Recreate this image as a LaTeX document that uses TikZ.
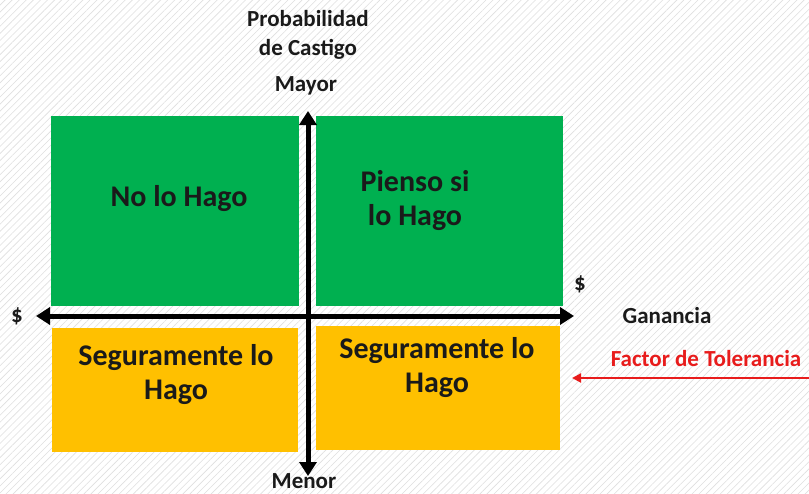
\documentclass[tikz,border=0pt]{standalone}
\usepackage{fontspec}
\setmainfont{Carlito}
\usetikzlibrary{patterns.meta,arrows.meta}
\definecolor{xgreen}{HTML}{00B050}
\definecolor{xgold}{HTML}{FFC000}
\definecolor{xred}{HTML}{E81C1C}
\definecolor{txt}{HTML}{1A1A1A}
\tikzset{
  boxtext/.style={font=\fontsize{30}{34}\selectfont\bfseries, text=txt, align=center},
  lbl/.style={font=\fontsize{23}{29}\selectfont\bfseries, text=txt, align=center},
  axis/.style={line width=5pt, -{Triangle[length=14pt,width=17pt]}},
}
\begin{document}
\begin{tikzpicture}[x=1pt,y=-1pt]
\useasboundingbox (0,0) rectangle (809,493);
\fill[white] (0,0) rectangle (809,493);
\fill[pattern={Lines[angle=45,distance=5pt,line width=0.6pt]}, pattern color=gray!25] (0,0) rectangle (809,493);
% quadrants
\fill[xgreen] (51,116) rectangle (299,306);
\fill[xgreen] (316,116) rectangle (563,306);
\fill[xgold] (52,328) rectangle (298,452);
\fill[xgold] (316,326) rectangle (560,450);
\node[boxtext] (q1) at (179,199) {No lo Hago};
\node[boxtext] (q2) at (415,201) {Pienso si\\lo Hago};
\node[boxtext] (q3) at (176,375) {Seguramente lo\\Hago};
\node[boxtext] (q4) at (437,368) {Seguramente lo\\Hago};
% axis coordinates
\coordinate (vtop) at (308,111);
\coordinate (vbot) at (308,476);
\coordinate (hleft) at (36,316);
\coordinate (hright) at (574,316);
\coordinate (c) at (308,316);
\draw[axis] (c) -- (vtop);
\draw[axis] (c) -- (vbot);
\draw[axis] (c) -- (hleft);
\draw[axis] (c) -- (hright);
% labels
\node[lbl] (prob) at (308,35) {Probabilidad\\de Castigo};
\node[lbl] (mayor) at (306,86) {Mayor};
\node[lbl] (menor) at (304,481) {Menor};
\node[lbl] (dl) at (17,316) {\$};
\node[lbl] (dr) at (580,284) {\$};
\node[lbl] (gan) at (667,316) {Ganancia};
\node[lbl, text=xred] (ft) at (706,359) {Factor de Tolerancia};
\coordinate (ftend) at (809,378);
\coordinate (fttip) at (572,378);
\draw[xred, line width=2pt, -{Triangle[length=9pt,width=9pt]}] (ftend) -- (fttip);
\end{tikzpicture}
\end{document}
